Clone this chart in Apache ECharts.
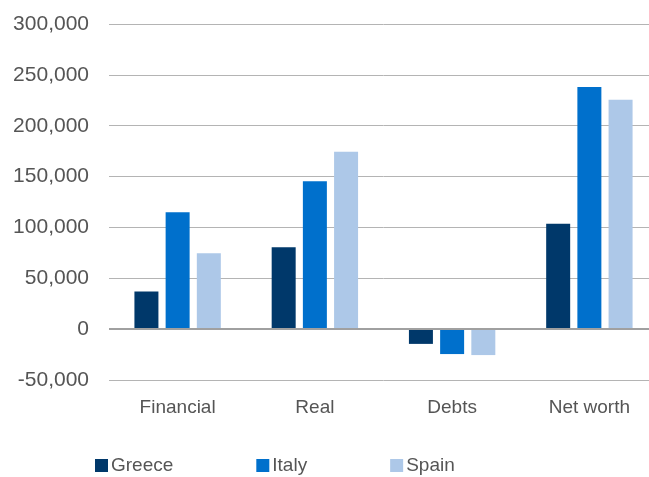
<!DOCTYPE html>
<html>
<head>
<meta charset="utf-8">
<script src="https://cdn.jsdelivr.net/npm/echarts@6/dist/echarts.min.js"></script>
<style>
  html, body { margin: 0; padding: 0; background: #fff; overflow: hidden; }
  #chart { width: 658px; height: 477px; }
</style>
</head>
<body>
<div id="chart"></div>
<script>
var categories = ['Financial', 'Real', 'Debts', 'Net worth'];
var greece = [37000, 80500, -14500, 103500];
var italy = [115000, 145500, -24500, 238000];
var spain = [74500, 174500, -25500, 225500];

// plot runs slightly past the right edge of the picture, as in the original
var myChart = echarts.init(document.getElementById('chart'));

var font = 'Liberation Sans';

option = {
    backgroundColor: '#fff',
    animation: false,
    grid: {
        left: 109,
        right: 0,
        top: 24,
        bottom: 97
    },
    legend: {
        bottom: -3,
        left: 90,
        itemWidth: 13,
        itemHeight: 13,
        itemGap: 83,
        icon: 'rect',
        textStyle: {
            fontFamily: font,
            fontSize: 19,
            color: '#555',
            padding: [0, 0, 0, -2]
        },
        data: ['Greece', 'Italy', 'Spain']
    },
    xAxis: {
        type: 'category',
        data: categories,
        position: 'bottom',
        axisLine: { onZero: false, show: false },
        axisTick: { show: false },
        axisLabel: {
            fontFamily: font,
            fontSize: 19,
            color: '#555',
            margin: 18
        }
    },
    yAxis: {
        type: 'value',
        min: -50000,
        max: 300000,
        interval: 50000,
        axisLine: { show: false },
        axisTick: { show: false },
        splitLine: {
            lineStyle: { color: '#b4b4b4', width: 1 }
        },
        axisLabel: {
            fontFamily: font,
            fontSize: 21,
            color: '#555',
            margin: 20,
            formatter: function (v) {
                return v.toLocaleString('en-US');
            }
        }
    },
    series: [{
        name: 'Greece',
        type: 'bar',
        data: greece,
        barWidth: 24,
        barGap: '30%',
        itemStyle: { color: '#00386a' },
        markLine: {
            silent: true,
            symbol: 'none',
            label: { show: false },
            lineStyle: { color: '#a0a0a0', width: 2, type: 'solid' },
            data: [{ yAxis: 0 }]
        }
    }, {
        name: 'Italy',
        type: 'bar',
        data: italy,
        barWidth: 24,
        itemStyle: { color: '#0070cc' }
    }, {
        name: 'Spain',
        type: 'bar',
        data: spain,
        barWidth: 24,
        itemStyle: { color: '#adc8e8' }
    }]
};
myChart.setOption(option);
</script>
</body>
</html>
